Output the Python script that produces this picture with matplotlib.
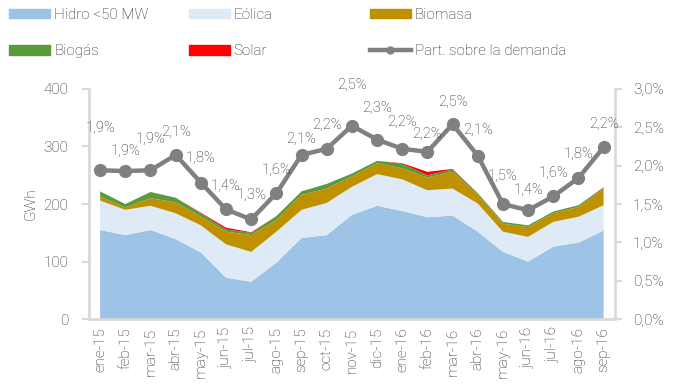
import matplotlib
matplotlib.use('Agg')
import matplotlib.pyplot as plt
from matplotlib.patches import Patch
from matplotlib.lines import Line2D

plt.rcParams['font.family'] = ['Roboto', 'DejaVu Sans']
plt.rcParams['font.weight'] = 'light'

# generación mensual por tecnología (GWh) y participación sobre la demanda (%)
meses = ['ene-15', 'feb-15', 'mar-15', 'abr-15', 'may-15', 'jun-15', 'jul-15',
         'ago-15', 'sep-15', 'oct-15', 'nov-15', 'dic-15', 'ene-16', 'feb-16',
         'mar-16', 'abr-16', 'may-16', 'jun-16', 'jul-16', 'ago-16', 'sep-16']
hidro = [155, 146, 155, 139, 116, 72, 65, 98, 141, 146, 181, 197, 188, 177,
         180, 152, 117, 100, 126, 133, 154]
eolica = [51, 44, 42, 45, 47, 58, 52, 54, 49, 56, 49, 55, 55, 47,
          47, 49, 35, 43, 43, 45, 44]
biomasa = [7, 4, 13, 19, 15, 22, 29, 20, 26, 25, 18, 19, 19, 22,
           29, 15, 14, 17, 15, 17, 28]
biogas = [9, 6, 11, 8, 6, 4, 4, 7, 6, 8, 5, 4, 8, 4,
          4, 3, 3, 3, 3, 3, 2]
solar = [0, 0, 0, 0, 1, 3, 1, 0, 0, 0, 0, 0, 1, 6,
         1, 0, 0, 0, 0, 0, 1]
part_demanda = [1.94, 1.93, 1.94, 2.14, 1.78, 1.43, 1.30, 1.64, 2.14, 2.22,
                2.52, 2.34, 2.22, 2.18, 2.54, 2.13, 1.50, 1.42, 1.60, 1.84,
                2.24]

# desplazamiento vertical (px) de cada etiqueta sobre su punto
label_dy = [42, 20, 31, 23, 25, 23, 24, 23, 16, 24, 41, 32, 27, 18, 22, 26,
            28, 20, 23, 24, 23]

colores = ['#9DC3E6', '#DEEBF7', '#BF9000', '#5B9A3B', '#FF0000']
nombres = ['Hidro <50 MW', 'Eólica', 'Biomasa', 'Biogás', 'Solar']
txt = '#262626'
eje = '#D9D9D9'

fig = plt.figure(figsize=(6.78, 3.85), dpi=100)
ax = fig.add_axes([0.131, 0.171, 0.776, 0.598])
x = list(range(len(meses)))
ax.stackplot(x, hidro, eolica, biomasa, biogas, solar, colors=colores,
             linewidth=0)
ax.set_xlim(-0.45, len(meses) - 0.55)
ax.set_ylim(0, 400)
ax.set_yticks([0, 100, 200, 300, 400])
ax.set_xticks(x)
ax.set_xticklabels(meses, rotation=90)
ax.set_ylabel('GWh', fontsize=11, color=txt, labelpad=4, fontweight='light')

ax2 = ax.twinx()
ax2.plot(x, part_demanda, color='#808080', lw=3.2, marker='o', ms=8.5,
         solid_joinstyle='round')
ax2.set_ylim(0, 3.0)
ax2.set_yticks([0, 0.5, 1.0, 1.5, 2.0, 2.5, 3.0])
ax2.set_yticklabels([f'{v:.1f}%'.replace('.', ',') for v in ax2.get_yticks()])
for xi, v, dy in zip(x, part_demanda, label_dy):
    ax2.annotate(f'{v:.1f}%'.replace('.', ','), (xi, v), xytext=(0, dy),
                 textcoords='offset pixels', ha='center', va='center',
                 fontsize=10.5, color=txt)

for a in (ax, ax2):
    for s in a.spines.values():
        s.set_visible(False)
    a.tick_params(colors=eje, labelcolor=txt, labelsize=11, width=1.5, length=5)
ax.spines['left'].set_visible(True)
ax.spines['bottom'].set_visible(True)
ax2.spines['right'].set_visible(True)
for s in (ax.spines['left'], ax.spines['bottom'], ax2.spines['right']):
    s.set_color(eje)
    s.set_linewidth(2)
ax.tick_params(axis='x', length=0, pad=6)
ax.tick_params(axis='y', pad=10)
ax2.tick_params(axis='y', pad=8)

# leyenda en tres columnas, dos filas cada una
handles = [Patch(color=c, label=n) for c, n in zip(colores, nombres)]
handles.append(Line2D([], [], color='#808080', lw=3.2, marker='o', ms=5,
                      label='Part. sobre la demanda'))
columnas = [(0, 3), (1, 4), (2, 5)]
col_x = [-0.007, 0.258, 0.525]
for (i, j), cx in zip(columnas, col_x):
    fig.legend([handles[i], handles[j]],
               [handles[i].get_label(), handles[j].get_label()],
               loc='upper left', bbox_to_anchor=(cx, 1.015), frameon=False,
               prop={'family': ['Liberation Sans Narrow', 'Roboto'], 'size': 11},
               labelcolor=txt, handlelength=2.7, handleheight=0.6,
               handletextpad=0.25, labelspacing=1.45)

fig.savefig('out.png', dpi=100)
